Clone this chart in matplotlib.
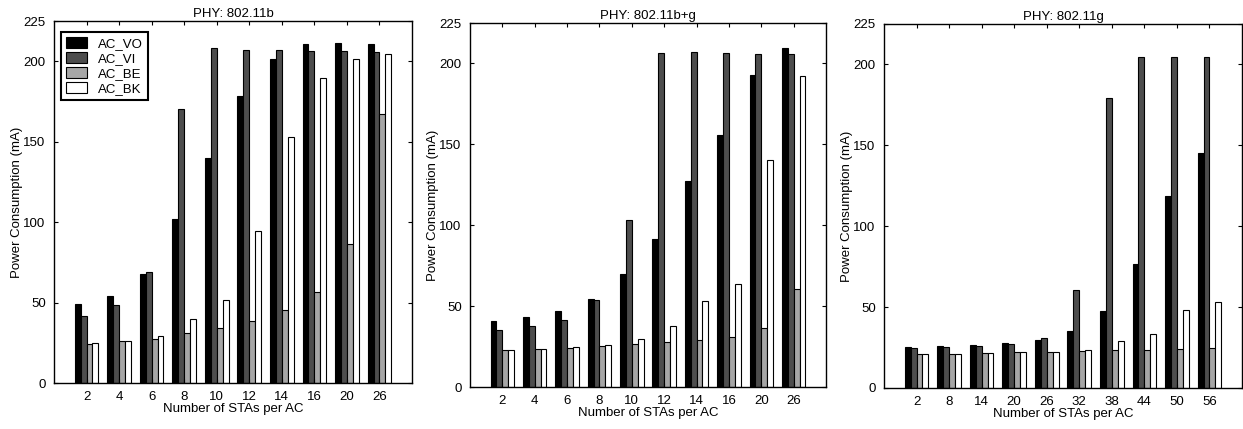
import numpy as np
import matplotlib
matplotlib.use('Agg')
import matplotlib.pyplot as plt

plt.rcParams['font.family'] = ['Liberation Sans', 'DejaVu Sans']
plt.rcParams['font.size'] = 9.5

series = ['AC_VO', 'AC_VI', 'AC_BE', 'AC_BK']
colores = ['#000000', '#4d4d4d', '#a6a6a6', '#ffffff']

# PHY: 802.11b
stas_b = ['2', '4', '6', '8', '10', '12', '14', '16', '20', '26']
vo_b = [49, 54.2, 67.6, 101.9, 140, 178.5, 201.6, 210.9, 211.3, 210.9]
vi_b = [41.8, 48.2, 68.9, 170.2, 208.2, 207.2, 206.8, 206.4, 206.2, 205.7]
be_b = [24.4, 25.8, 27.3, 31.2, 34.1, 38.3, 45.1, 56.5, 86.2, 167.5]
bk_b = [24.8, 25.8, 29.4, 39.7, 51.3, 94.7, 152.8, 189.4, 201.2, 204.7]

# PHY: 802.11b+g
stas_bg = ['2', '4', '6', '8', '10', '12', '14', '16', '20', '26']
vo_bg = [40.7, 43.1, 47.1, 54.7, 70, 91.5, 127.2, 155.7, 193, 209.5]
vi_bg = [35.5, 38, 41.7, 53.9, 103, 206.4, 206.9, 206.4, 206, 205.8]
be_bg = [22.7, 23.5, 24.4, 25.6, 26.8, 27.7, 28.9, 30.6, 36.7, 60.3]
bk_bg = [23.1, 23.5, 24.8, 26, 29.5, 37.4, 53.3, 63.4, 140.6, 192.4]

# PHY: 802.11g
stas_g = ['2', '8', '14', '20', '26', '32', '38', '44', '50', '56']
vo_g = [25.3, 25.9, 26.8, 27.8, 29.8, 35.4, 47.3, 76.8, 118.4, 145.5]
vi_g = [24.5, 25.1, 26.1, 27.4, 31.1, 60.7, 179.1, 204.8, 204.8, 204.8]
be_g = [21.2, 21.2, 21.6, 22, 22.2, 22.8, 23.3, 23.3, 24.1, 24.7]
bk_g = [21, 21.2, 21.6, 22, 22.4, 23.7, 29, 33.1, 48, 52.9]


def barras(ax, titulo, etiquetas, datos, leyenda=False):
    x = np.arange(1, len(etiquetas) + 1)
    ancho_grupo = 4 / 5.5
    w = ancho_grupo / 4
    for i, (d, c) in enumerate(zip(datos, colores)):
        ax.bar(x - ancho_grupo / 2 + w * (i + 0.5), d, width=w, color=c,
               edgecolor='k', linewidth=0.8, label=series[i])
    ax.set_xlim(0, 11)
    ax.set_ylim(0, 225)
    ax.set_xticks(x)
    ax.set_xticklabels(etiquetas)
    ax.set_yticks([0, 50, 100, 150, 200, 225])
    ax.tick_params(labelsize=9.5, direction='in', top=True, right=True, length=3, pad=6)
    ax.set_xlabel('Number of STAs per AC', fontsize=9.5, labelpad=0)
    ax.set_ylabel('Power Consumption (mA)', fontsize=9.5, labelpad=0)
    ax.set_title(titulo, fontsize=9.5, pad=3)
    for s in ax.spines.values():
        s.set_linewidth(1.0)
    if leyenda:
        leg = ax.legend(loc='upper left', bbox_to_anchor=(0.019, 0.97), fontsize=9.5,
                        fancybox=False, framealpha=1, edgecolor='k', borderaxespad=0,
                        handlelength=1.6, handleheight=0.9, borderpad=0.4,
                        labelspacing=0.15, handletextpad=0.8)
        leg.get_frame().set_linewidth(1.5)


fig = plt.figure(figsize=(12.43, 4.29), dpi=100)
ax1 = fig.add_axes([54 / 1243, 1 - 383 / 429, 358 / 1243, 362 / 429])
ax2 = fig.add_axes([470 / 1243, 1 - 387 / 429, 356 / 1243, 364 / 429])
ax3 = fig.add_axes([884 / 1243, 1 - 388 / 429, 358 / 1243, 364 / 429])

barras(ax1, 'PHY: 802.11b', stas_b, [vo_b, vi_b, be_b, bk_b], leyenda=True)
barras(ax2, 'PHY: 802.11b+g', stas_bg, [vo_bg, vi_bg, be_bg, bk_bg])
barras(ax3, 'PHY: 802.11g', stas_g, [vo_g, vi_g, be_g, bk_g])

fig.savefig('out.png', dpi=100)
